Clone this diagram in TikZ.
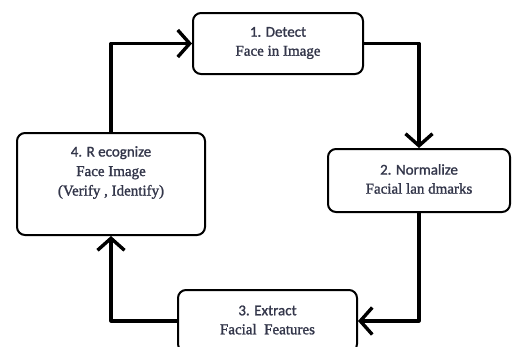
\documentclass[tikz,border=0pt]{standalone}
\usepackage{fontspec}
\setmainfont{Liberation Serif}
\newfontfamily\titlefont{Carlito}[FakeBold=1.2]
\newfontfamily\bodyfont{Liberation Serif}[FakeBold=1.4]
\usetikzlibrary{arrows.meta}
\definecolor{txt}{HTML}{33364A}
\newcommand{\ttl}[1]{{\titlefont #1}}
\newcommand{\bdy}[1]{{\bodyfont #1}}
\tikzset{
  stepbox/.style={draw=black, line width=2pt, rounded corners=8pt, fill=white,
    inner sep=0pt},
  steptext/.style={text=txt, font=\fontsize{15}{19}\selectfont, align=center, inner sep=0pt},
  flow/.style={line width=3.2pt, line cap=round, line join=round,
    -{Straight Barb[length=12pt,width=27pt,line width=3.4pt]}}
}
\begin{document}
\begin{tikzpicture}[x=1pt,y=-1pt]
\useasboundingbox (0,0) rectangle (514,346);
\node[stepbox, minimum width=170pt, minimum height=61pt] (b1) at (278,43.5) {};
\node[steptext] (t1) at (278,43) {\ttl{1. Detect}\\\bdy{Face in Image}};
\node[stepbox, minimum width=182pt, minimum height=63pt] (b2) at (419,180.5) {};
\node[steptext] (t2) at (419,179) {\ttl{2. Normalize}\\\bdy{Facial lan dmarks}};
\node[stepbox, minimum width=179pt, minimum height=62pt] (b3) at (267.5,321) {};
\node[steptext] (t3) at (267.5,320) {\ttl{3. Extract}\\\bdy{Facial\ \ Features}};
\node[stepbox, minimum width=188pt, minimum height=102pt] (b4) at (111,184) {};
\node[steptext, font=\fontsize{15}{19.5}\selectfont] (t4) at (111,172.5) {\ttl{4. R ecognize}\\\bdy{Face Image}\\\bdy{(Verify , Identify)}};
\draw[flow] (b4.north) |- (b1.west);
\draw[flow] (b1.east) -| (b2.north);
\draw[flow] (b2.south) |- (b3.east);
\draw[flow] (b3.west) -| (b4.south);
\end{tikzpicture}
\end{document}
